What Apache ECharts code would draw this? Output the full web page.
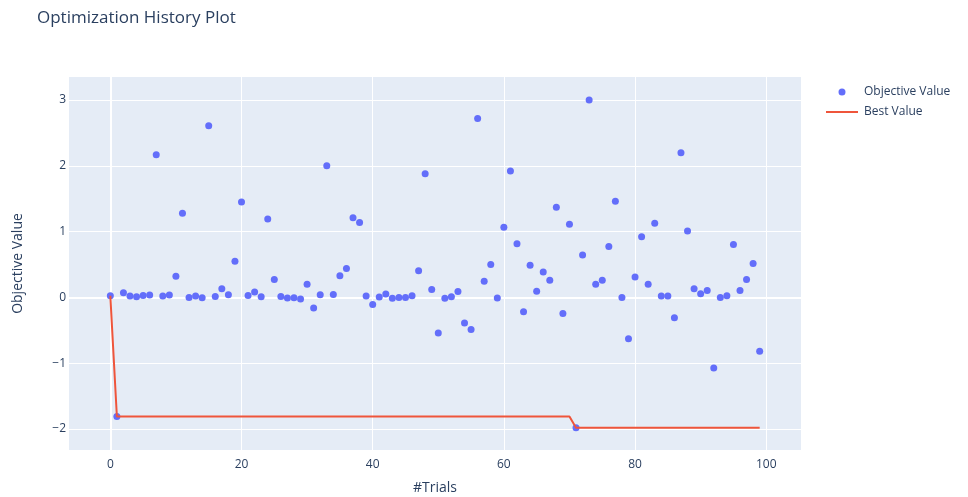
<!DOCTYPE html>
<html>
<head>
<meta charset="utf-8">
<script src="https://cdn.jsdelivr.net/npm/echarts@6/dist/echarts.min.js"></script>
<style>html,body{margin:0;padding:0;background:#fff}#c{width:968px;height:497px}</style>
</head>
<body>
<div id="c"></div>
<script>
const trials = Array.from({length: 100}, (_, i) => i);
const objectiveValues = [
  0.025,-1.81,0.07,0.02,0.01,0.03,0.035,2.17,0.02,0.035,
  0.32,1.28,0.0,0.02,-0.005,2.61,0.015,0.13,0.04,0.55,
  1.45,0.03,0.08,0.01,1.19,0.27,0.015,-0.01,-0.005,-0.025,
  0.2,-0.16,0.04,2.0,0.045,0.33,0.44,1.21,1.14,0.02,
  -0.11,0.005,0.05,-0.015,0.0,0.0,0.025,0.405,1.88,0.12,
  -0.54,-0.015,0.01,0.09,-0.39,-0.49,2.72,0.245,0.5,-0.01,
  1.065,1.92,0.815,-0.22,0.49,0.095,0.385,0.26,1.37,-0.245,
  1.11,-1.98,0.645,3.0,0.2,0.26,0.775,1.46,0.0,-0.63,
  0.31,0.92,0.2,1.125,0.02,0.02,-0.31,2.2,1.01,0.13,
  0.055,0.105,-1.075,0.0,0.025,0.805,0.105,0.27,0.515,-0.82
];
const bestValues = [
  0.025,-1.81,-1.81,-1.81,-1.81,-1.81,-1.81,-1.81,-1.81,-1.81,
  -1.81,-1.81,-1.81,-1.81,-1.81,-1.81,-1.81,-1.81,-1.81,-1.81,
  -1.81,-1.81,-1.81,-1.81,-1.81,-1.81,-1.81,-1.81,-1.81,-1.81,
  -1.81,-1.81,-1.81,-1.81,-1.81,-1.81,-1.81,-1.81,-1.81,-1.81,
  -1.81,-1.81,-1.81,-1.81,-1.81,-1.81,-1.81,-1.81,-1.81,-1.81,
  -1.81,-1.81,-1.81,-1.81,-1.81,-1.81,-1.81,-1.81,-1.81,-1.81,
  -1.81,-1.81,-1.81,-1.81,-1.81,-1.81,-1.81,-1.81,-1.81,-1.81,
  -1.81,-1.98,-1.98,-1.98,-1.98,-1.98,-1.98,-1.98,-1.98,-1.98,
  -1.98,-1.98,-1.98,-1.98,-1.98,-1.98,-1.98,-1.98,-1.98,-1.98,
  -1.98,-1.98,-1.98,-1.98,-1.98,-1.98,-1.98,-1.98,-1.98,-1.98
];
const xTicks = [0, 20, 40, 60, 80, 100];
const yTicks = [-2, -1, 0, 1, 2, 3];

const FONT = '"Open Sans", verdana, arial, sans-serif';
const TXT = '#2a3f5f';
const dotIcon = 'path://M0,0h0.01v0.01h-0.01z M32,7h-0.01v-0.01h0.01z M12.5,3.5a3.5,3.5 0 1,0 7,0a3.5,3.5 0 1,0 -7,0z';
const chart = echarts.init(document.getElementById('c'));
chart.setOption({
  animation: false,
  backgroundColor: '#fff',
  textStyle: {fontFamily: FONT},
  title: {
    text: 'Optimization History Plot',
    left: 32, top: 5,
    textStyle: {fontFamily: FONT, fontSize: 17, fontWeight: 'normal', color: TXT}
  },
  grid: {left: 69, right: 167, top: 77, bottom: 47, show: true, backgroundColor: '#E5ECF6', borderWidth: 0,
    containLabel: false, outerBoundsMode: 'none'},
  legend: [
    {
      data: [{name: 'Objective Value', icon: dotIcon}],
      left: 826, top: 86, itemWidth: 32, itemHeight: 7, itemGap: 6, padding: 0,
      textStyle: {fontFamily: FONT, fontSize: 12, color: TXT, padding: [0, 0, 0, 1]}
    },
    {
      data: [{name: 'Best Value', icon: 'rect'}],
      left: 826, top: 106, itemWidth: 32, itemHeight: 2, itemGap: 6, padding: 0,
      textStyle: {fontFamily: FONT, fontSize: 12, color: TXT, padding: [0, 0, 0, 1]}
    }
  ],
  xAxis: {
    type: 'value', min: -6.3, max: 105.3,
    name: '#Trials', nameLocation: 'middle', nameGap: 31,
    nameTextStyle: {fontFamily: FONT, fontSize: 14, color: TXT},
    axisLine: {show: false},
    axisTick: {show: false, customValues: xTicks},
    axisLabel: {customValues: xTicks, color: TXT, fontSize: 12, margin: 9, fontFamily: FONT},
    splitLine: {show: true, lineStyle: {color: '#fff', width: 1}}
  },
  yAxis: {
    type: 'value', min: -2.32, max: 3.35,
    name: 'Objective Value', nameLocation: 'middle', nameGap: 44, nameRotate: 90,
    nameTextStyle: {fontFamily: FONT, fontSize: 14, color: TXT},
    axisLine: {show: false},
    axisTick: {show: false, customValues: yTicks},
    axisLabel: {customValues: yTicks, color: TXT, fontSize: 12, margin: 3, fontFamily: FONT,
      formatter: v => (v < 0 ? '\u2212' + Math.abs(v) : String(v))},
    splitLine: {show: true, lineStyle: {color: '#fff', width: 1}}
  },
  series: [
    {
      name: 'zero', type: 'line', data: [], z: 1, silent: true,
      markLine: {
        silent: true, symbol: 'none', label: {show: false}, z: 1,
        lineStyle: {color: '#fff', width: 2, type: 'solid'},
        data: [{yAxis: 0}, {xAxis: 0}]
      }
    },
    {
      name: 'Objective Value', type: 'scatter', z: 3,
      symbolSize: 7,
      itemStyle: {color: '#636efa', opacity: 1},
      data: trials.map((t, i) => [t, objectiveValues[i]])
    },
    {
      name: 'Best Value', type: 'line', z: 4,
      showSymbol: false, symbol: 'none',
      itemStyle: {color: '#EF553B'},
      lineStyle: {color: '#EF553B', width: 2},
      data: trials.map((t, i) => [t, bestValues[i]])
    }
  ]
});
</script>
</body>
</html>
